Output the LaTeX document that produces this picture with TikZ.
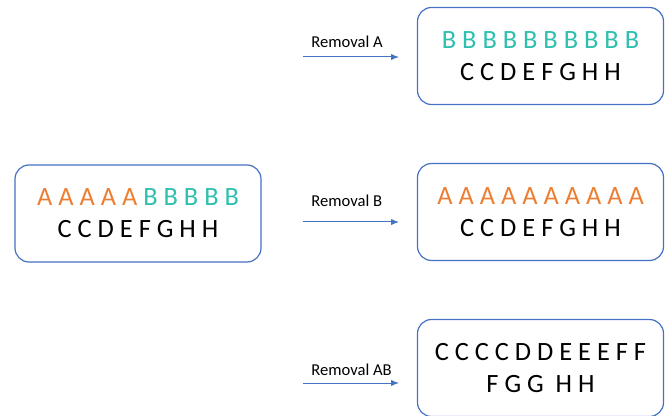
\documentclass[tikz,border=0pt]{standalone}
\usepackage{fontspec}
\setmainfont{Carlito}
\usetikzlibrary{arrows.meta, positioning}
\definecolor{cblue}{HTML}{4472C4}
\definecolor{corange}{HTML}{ED7D31}
\definecolor{cteal}{HTML}{2EBFAE}
\tikzset{
  box/.style={draw=cblue, line width=0.6pt, rounded corners=7pt, align=center, inner sep=0pt,
              minimum width=123pt, minimum height=48.5pt, font=\fontsize{13.2}{16}\selectfont},
  arrow/.style={-{Latex[length=4pt, width=3.2pt]}, draw=cblue, line width=0.5pt},
  lbl/.style={font=\fontsize{8.3}{10}\selectfont, anchor=base west, inner sep=0pt},
}

\begin{document}
\begin{tikzpicture}[x=0.5pt, y=-0.5pt]
  \useasboundingbox (0,0) rectangle (667,416);
  \newcommand{\arow}[2]{% id, y
    \coordinate (#1s) at (303,#2);
    \coordinate (#1e) at (399,#2);
    \draw[arrow] (#1s) -- (#1e);}
  % start
  \node[box] (src) at (138,213.5)
    {{\color{corange}A A A A A} {\color{cteal}B B B B B}\\C C D E F G H H};
  % results
  \node[box] (ra) at (540.5,56) {{\color{cteal}B B B B B B B B B B}\\C C D E F G H H};
  \node[box] (rb) at (540.5,212) {{\color{corange}A A A A A A A A A A}\\C C D E F G H H};
  \node[box] (rab) at (540.5,368) {C C C C D D E E E F F\\F G G\ \ H H};
  \arow{a}{57}
  \node[lbl] (la) at (311,48) {Removal A};
  \arow{b}{222}
  \node[lbl] (lb) at (311,207) {Removal B};
  \arow{ab}{383}
  \node[lbl] (lab) at (311,375) {Removal AB};
\end{tikzpicture}
\end{document}
